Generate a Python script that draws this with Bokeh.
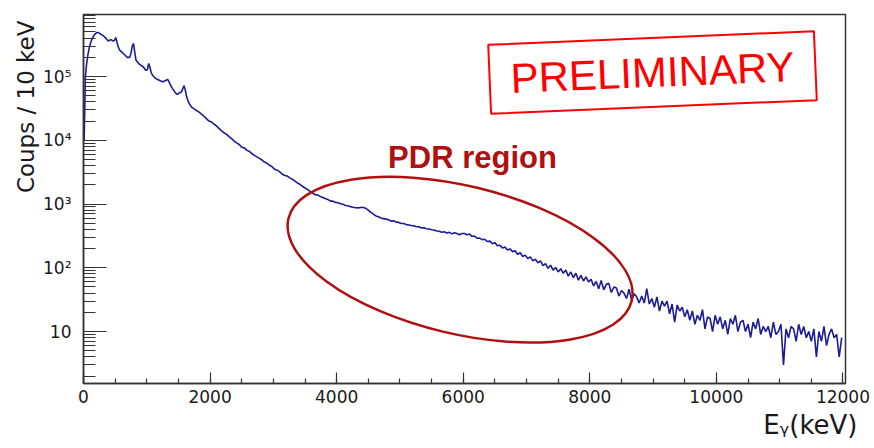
import numpy as np
from bokeh.plotting import figure
from bokeh.models import Range1d, FixedTicker, SingleIntervalTicker, Label, Title
from bokeh.embed import file_html
from bokeh.resources import INLINE

# ---------------- data (counts per 10 keV) ----------------
# 0 - 2000 keV, 20 keV bins
counts_low = [
    10000, 100000, 160000, 220000, 280000, 330000, 380000, 415000, 450000, 470000,
    490000, 490000, 480000, 460000, 450000, 440000, 420000, 400000, 380000, 360000,
    370000, 380000, 370000, 360000, 370000, 410000, 340000, 290000, 260000, 250000,
    240000, 230000, 220000, 210000, 200000, 200000, 200000, 230000, 300000, 330000,
    240000, 180000, 170000, 160000, 155000, 150000, 145000, 140000, 130000, 125000,
    130000, 160000, 140000, 115000, 105000, 100000, 95000, 92000, 90000, 88000,
    86000, 84000, 83000, 84000, 86000, 88000, 90000, 83000, 75000, 69000,
    64000, 60000, 56000, 53000, 53000, 55000, 56000, 58000, 65000, 72000,
    60000, 48000, 42000, 38000, 35000, 33000, 32000, 31000, 30000, 29000,
    28500, 27500, 26500, 25500, 24500, 23500, 22500, 21500, 20500, 19800,
]
# 2000 - 12000 keV, 40 keV bins
counts_high = [
    19500, 18000, 16800, 15400, 14200, 13100, 12400, 11400, 10600, 9700,
    9100, 8600, 7800, 7600, 7000, 6700, 6200, 5800, 5500, 5200,
    4900, 4550, 4350, 4050, 3850, 3500, 3400, 3200, 2950, 2800,
    2750, 2570, 2450, 2290, 2140, 2040, 1900, 1780, 1700, 1580,
    1490, 1400, 1390, 1310, 1270, 1220, 1180, 1110, 1110, 1060,
    1050, 1010, 990, 950, 940, 910, 890, 875, 870, 880,
    885, 855, 800, 740, 695, 650, 630, 605, 590, 580,
    565, 540, 545, 520, 515, 495, 495, 475, 470, 460,
    455, 440, 440, 420, 425, 410, 405, 395, 392, 378,
    375, 360, 368, 352, 360, 340, 355, 345, 330, 345,
    345, 330, 338, 310, 315, 290, 292, 276, 280, 258,
    262, 238, 248, 222, 226, 205, 212, 190, 198, 178,
    185, 162, 172, 150, 158, 140, 148, 128, 136, 120,
    128, 108, 116, 98, 110, 92, 101, 86, 97, 82,
    92, 74, 86, 70, 82, 64, 76, 62, 72, 60,
    66, 52, 61, 47, 63, 45, 55, 57, 41, 50,
    48, 36, 44, 40, 33, 46, 31, 39, 35, 28,
    36, 28, 47, 27, 33, 24, 35, 21, 30, 25,
    30, 19, 27, 14, 26, 21, 24, 17, 22, 15,
    21, 13, 18, 15, 22, 11, 17, 16, 10, 18,
    13, 17, 11, 15, 9, 16, 13, 18, 10, 14,
    15, 10, 13, 8, 14, 11, 16, 9, 12, 10,
    12, 8, 14, 9, 10, 13, 3, 11, 8, 12,
    11, 7, 13, 9, 12, 8, 10, 7, 11, 4,
    10, 7, 12, 6, 9, 11, 8, 9, 4, 8,
]
y_ticks = [10, 100, 1000, 10000, 100000]
y_tick_labels = ["10", "10²", "10³", "10⁴", "10⁵"]

# ---------------- bin centres ----------------
x_max = 12040
centers = np.concatenate([10.0 + np.arange(len(counts_low)) * 20.0,
                          2020.0 + np.arange(len(counts_high)) * 40.0])
vals = np.array(counts_low + counts_high, dtype=float)

p = figure(width=874, height=448, x_range=Range1d(0, x_max),
           y_range=Range1d(1.53, 9.4e5), y_axis_type="log",
           output_backend="svg", toolbar_location=None,
           min_border_left=83, min_border_right=29,
           min_border_top=14, min_border_bottom=65)
p.title.visible = False
p.grid.visible = False
p.background_fill_color = "white"
p.border_fill_color = "white"
p.outline_line_color = "#333333"
p.outline_line_width = 1.5

p.line(centers, vals, line_color="#1c1c96", line_width=1.6)

# ellipse around the PDR region
p.ellipse(x=5950, y=134, width=353, height=148, width_units="screen",
          height_units="screen", angle=-13.5, angle_units="deg",
          fill_color=None, line_color="#b01010", line_width=2.5)

# axes
ax = p.xaxis[0]
ax.ticker = SingleIntervalTicker(interval=2000, num_minor_ticks=4)
ax.major_tick_in = 11
ax.major_tick_out = 0
ax.minor_tick_in = 5
ax.minor_tick_out = 0
ax.major_label_standoff = 6
ay = p.yaxis[0]
minor = [k * 10.0 ** n for n in range(0, 6) for k in range(2, 10)]
ay.ticker = FixedTicker(ticks=y_ticks, minor_ticks=minor)
ay.major_label_overrides = {t: s for t, s in zip(y_ticks, y_tick_labels)}
ay.major_tick_in = 23
ay.major_tick_out = 0
ay.minor_tick_in = 12
ay.minor_tick_out = 0
ay.major_label_standoff = 12
for a in (ax, ay):
    a.axis_line_color = "#333333"
    a.axis_line_width = 1.5
    a.major_tick_line_color = "#333333"
    a.minor_tick_line_color = "#333333"
    a.major_tick_line_width = 1.2
    a.minor_tick_line_width = 1.2
    a.major_label_text_font = "DejaVu Sans"
    a.major_label_text_font_size = "17px"
    a.major_label_text_color = "#1a1a1a"

# axis titles as side titles (aligned to the top / right end like ROOT)
p.add_layout(Title(text="Coups / 10 keV", align="right", offset=6,
                   standoff=4, text_font="DejaVu Sans",
                   text_font_size="23px", text_font_style="normal",
                   text_color="#1a1a1a"), "left")
p.add_layout(Title(text="Eᵧ(keV)", align="right", offset=-12,
                   standoff=4, text_font="DejaVu Sans",
                   text_font_size="26px", text_font_style="normal",
                   text_color="#1a1a1a"), "below")


def add_label(text, x, y, size, font="Liberation Sans", style="normal",
              color="#1a1a1a", align="left", baseline="alphabetic",
              angle=0.0, **kw):
    lab = Label(x=x, y=y, x_units="screen", y_units="screen", text=text,
                text_font=font, text_font_size=size, text_font_style=style,
                text_color=color, text_align=align, text_baseline=baseline,
                angle=angle, angle_units="deg", **kw)
    p.add_layout(lab)
    return lab


# annotations
add_label("PDR region", 389, 226, "31px", style="bold", color="#b01010",
          align="center")
add_label("PRELIMINARY", 569, 311, "42px", color="#ff0000", align="center",
          baseline="middle", angle=2.4,
          border_line_color="#ff0000", border_line_width=2,
          padding=dict(left=21, right=21, top=11, bottom=11))

open("out.html", "w").write(file_html(p, INLINE))
